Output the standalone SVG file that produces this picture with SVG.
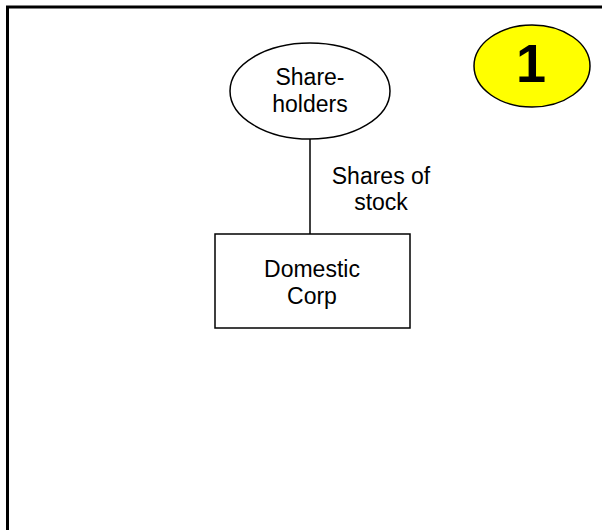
<svg xmlns="http://www.w3.org/2000/svg" width="602" height="530" viewBox="0 0 602 530">
<style>
.t{font-family:"Liberation Sans",Arial,sans-serif;font-size:23px;fill:#000;text-anchor:middle}
.s{fill:#fff;stroke:#000;stroke-width:1.5}
</style>
<rect x="0" y="0" width="602" height="530" fill="#fff"/>
<path d="M7.5 540 V7 H612" fill="none" stroke="#000" stroke-width="3"/>
<g id="connectors">
<line x1="310" y1="139" x2="310" y2="234" stroke="#000" stroke-width="1.5"/>
<text class="t" x="381" y="184">Shares of</text>
<text class="t" x="381" y="210">stock</text>
</g>
<g id="shareholders">
<ellipse class="s" cx="310" cy="91" rx="80" ry="48"/>
<text class="t" x="310" y="85">Share-</text>
<text class="t" x="310" y="112">holders</text>
</g>
<g id="domestic-corp">
<rect class="s" x="215" y="234" width="195" height="94"/>
<text class="t" x="312" y="277">Domestic</text>
<text class="t" x="312" y="304">Corp</text>
</g>
<g id="badge">
<ellipse cx="532" cy="66" rx="58" ry="41" fill="#ffff00" stroke="#000" stroke-width="1.5"/>
<text x="531" y="82" style="font-family:'Liberation Sans',Arial,sans-serif;font-size:54px;font-weight:bold;text-anchor:middle">1</text>
</g>
</svg>
